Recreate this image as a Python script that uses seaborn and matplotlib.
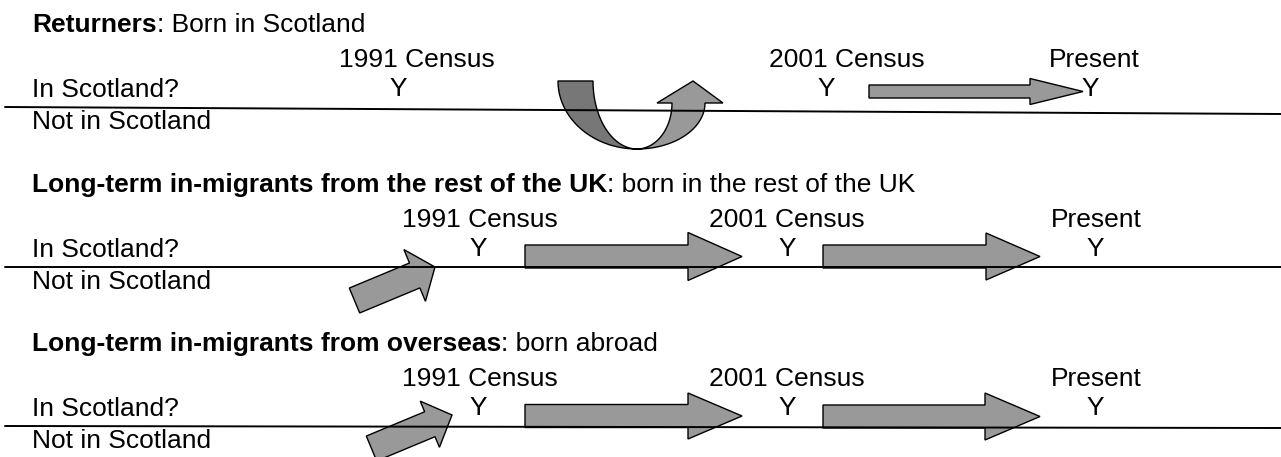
import numpy as np
import matplotlib
matplotlib.use("Agg")
import matplotlib.pyplot as plt
import seaborn as sns
from matplotlib.patches import FancyArrow, Polygon

# ---- text content ----
panel_names = ["Returners",
               "Long-term in-migrants from the rest of the UK",
               "Long-term in-migrants from overseas"]
panel_births = [": Born in Scotland",
                ": born in the rest of the UK",
                ": born abroad"]
census_labels = ["1991 Census", "2001 Census", "Present"]
row_labels = ["In Scotland?", "Not in Scotland"]
status_mark = "Y"

# ---- layout (pixels, y downwards) ----
line_left_y = [107, 267, 426]
line_right_y = [114, 267, 428]
census_x = [[417, 847, 1094], [480, 787, 1096], [480, 787, 1096]]
mark_x = [[398, 826, 1090], [478, 787, 1095], [478, 787, 1095]]

# straight arrows: panel, tail x, tip x, y, width, head width, head length
straight_arrows = [
    (0, 869, 1083, 91.5, 13, 26, 53),
    (1, 525, 742, 256.5, 23, 48, 54),
    (1, 823, 1040, 256.5, 23, 47, 54),
    (2, 525, 742, 416, 23, 46, 54),
    (2, 823, 1040, 416.5, 23, 47, 55),
]
# diagonal arrows (entering Scotland): tail xy, tip xy, width, head width, head length
diag_arrows = [
    ((354.5, 300.5), (435, 267), 27, 56, 22),
    ((371.5, 448.5), (452, 415), 27, 50, 24),
]

light = "#999999"
dark = "#777777"

sns.set_theme(style="white")
plt.rcParams["font.family"] = ["Liberation Sans", "DejaVu Sans"]
fs = 19

fig = plt.figure(figsize=(12.81, 4.57), dpi=100)
ax = fig.add_axes([0, 0, 1, 1])

for i in range(3):
    L = line_left_y[i]
    sns.lineplot(x=[5, 1281], y=[line_left_y[i], line_right_y[i]], color="black",
                 lw=1.4, ax=ax, zorder=5)
    t = ax.text(32, L - 82, panel_names[i], fontsize=fs, weight="bold",
                va="center", ha="left", color="black")
    ax.annotate(panel_births[i], xy=(1, 0.5), xycoords=t, fontsize=fs,
                va="center", ha="left", color="black")
    ax.text(32, L - 17, row_labels[0], fontsize=fs, va="center", color="black")
    ax.text(32, L + 15, row_labels[1], fontsize=fs, va="center", color="black")
    for cx, mx, lab in zip(census_x[i], mark_x[i], census_labels):
        ax.text(cx, L - 47, lab, fontsize=fs, va="center", ha="center", color="black")
        ax.text(mx, L - 18, status_mark, fontsize=fs, va="center", ha="center",
                color="black")

for p, x0, x1, y, w, hw, hl in straight_arrows:
    ax.add_patch(FancyArrow(x0, y, x1 - x0, 0, width=w, head_width=hw,
                            head_length=hl, length_includes_head=True,
                            fc=light, ec="black", lw=1.0, zorder=3))

for (tx, ty), (hx, hy), w, hw, hl in diag_arrows:
    ax.add_patch(FancyArrow(tx, ty, hx - tx, hy - ty, width=w, head_width=hw,
                            head_length=hl, length_includes_head=True,
                            fc=light, ec="black", lw=1.0, zorder=3))

# U-turn arrow (leaving and coming back to Scotland)
th = np.linspace(np.pi, np.pi / 2, 40)
outer = np.c_[637 + 79 * np.cos(th), 81 + 68 * np.sin(th)]
inner = np.c_[637 + 44 * np.cos(th[::-1]), 81 + 68 * np.sin(th[::-1])]
ax.add_patch(Polygon(np.vstack([outer, inner]), closed=True, fc=dark, ec="black",
                     lw=1.0, zorder=3))
th = np.linspace(np.pi / 2, 0, 40)
outer = np.c_[637 + 68 * np.cos(th), 103 + 46 * np.sin(th)]
inner = np.c_[637 + 35 * np.cos(th[::-1]), 103 + 46 * np.sin(th[::-1])]
head = np.array([[723, 103], [693, 81], [657, 103], [672, 103]])
ax.add_patch(Polygon(np.vstack([outer, head, inner]), closed=True, fc=light,
                     ec="black", lw=1.0, zorder=3))

ax.set_xlim(0, 1281)
ax.set_ylim(457, 0)
ax.axis("off")
fig.savefig("out.png", dpi=100)
